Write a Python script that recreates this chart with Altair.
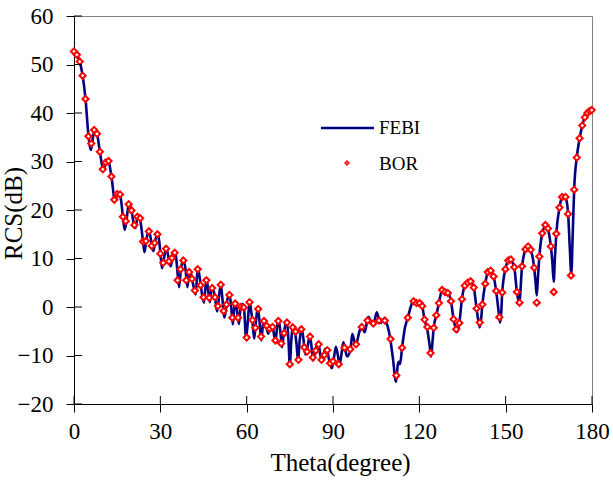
import altair as alt
import pandas as pd

# ---------------- data ----------------
X_TICKS = [0, 30, 60, 90, 120, 150, 180]
Y_TICKS = [-20, -10, 0, 10, 20, 30, 40, 50, 60]
LEGEND_LABELS = ["FEBI", "BOR"]

FEBI_THETA = [
    0, 1, 2, 3, 4, 5, 5.9, 6.5, 7.3, 8, 9, 10.2, 11.0, 11.9, 13, 14.3, 15.1, 15.7, 16.4, 17,
    17.6, 18.2, 18.8, 19.4, 20, 20.7, 21.4, 22.0, 22.6, 23.2, 24, 24.5, 25, 25.9, 26.6, 27.1,
    27.6, 28.2, 29.0, 29.6, 30.2, 30.6, 31.2, 32.1, 32.9, 33.6, 34.3, 35.2, 35.9, 36.5, 37.2,
    38.1, 38.8, 39.4, 40.0, 40.4, 41.0, 41.8, 42.3, 42.8, 43.1, 43.8, 44.6, 45.2, 45.7, 46.1,
    46.6, 47.2, 47.7, 48.1, 49.0, 49.7, 50.1, 51.0, 51.6, 52.2, 52.8, 53.0, 54.0, 54.6, 55.2,
    55.8, 56.2, 56.7, 57.3, 57.9, 58.5, 59.1, 59.8, 60.4, 61.0, 61.6, 62.0, 62.6, 63.0, 63.9,
    64.5, 65.1, 65.6, 66.2, 66.8, 67.5, 68.0, 68.6, 69.2, 70.0, 70.6, 71.1, 71.7, 72.3, 72.8,
    73.5, 74.0, 74.5, 75.0, 75.5, 76.1, 76.7, 77.3, 77.9, 78.4, 79.1, 79.7, 80.4, 80.9, 81.5,
    82.0, 82.6, 83.1, 83.7, 84.4, 85.0, 85.5, 86.1, 86.7, 87.3, 87.9, 88.5, 89.0, 89.6, 90.2,
    91.0, 91.7, 92.3, 93.0, 93.6, 94.1, 94.9, 96.1, 96.7, 97.3, 97.9, 98.5, 99.2, 100.1, 101.0,
    101.9, 102.3, 103.2, 104.1, 105.2, 106.0, 106.6, 107.5, 108.0, 109.0, 109.9, 110.8, 111.9,
    112.5, 112.9, 113.3, 114.0, 115.0, 116.0, 117.0, 117.8, 118.5, 119.0, 119.6, 120.1, 121.0,
    121.8, 122.8, 123.6, 124.1, 124.6, 125.0, 125.9, 126.8, 127.9, 128.5, 128.9, 129.9, 131.0,
    131.9, 132.8, 133.2, 133.9, 134.8, 135.8, 136.8, 137.6, 138.9, 139.9, 140.5, 141.0, 141.5,
    141.9, 142.9, 143.8, 144.4, 145.8, 146.7, 147.8, 148.1, 148.5, 148.8, 149.9, 150.9, 151.4,
    151.8, 153.0, 153.9, 154.7, 155.7, 156.9, 157.7, 158.7, 159.9, 160.4, 160.8, 161.2, 161.7,
    162.7, 163.8, 164.2, 164.7, 165.7, 166.2, 166.7, 167.1, 167.6, 168.7, 169.6, 170.2, 170.8,
    171.7, 172.3, 172.8, 173.3, 173.8, 174.7, 175.7, 176.6, 177.5, 178.4, 179.2, 180.0,
]
FEBI_RCS = [
    52.7, 52.0, 50.6, 47.7, 42.9, 35.6, 32.4, 34.6, 36.8, 35.8, 32.0, 28.2, 29.6, 30.3, 26.9, 21.8, 23.3, 23.6, 21.8, 18.6,
    15.9, 17.6, 20.5, 21.4, 19.9, 17.4, 16.3, 18.4, 18.9, 17.2, 13.5, 11.3, 13.2, 15.7, 14.4, 12.4,
    11.5, 13.6, 15.2, 13.6, 10.0, 8.0, 9.8, 12.1, 10.0, 8.4, 10.4, 11.4, 7.6, 4.1, 8.1,
    9.7, 7.5, 4.1, 7.1, 7.4, 5.8, 3.6, 2.6, 6.8, 7.9, 5.6, 2.2, 0.9, 4.2, 5.6,
    3.6, 1.0, 3.4, 4.0, 2.0, -0.9, 0.6, 4.7, 1.5, -2.2, -0.5, 0.5, 2.6, 0.2, -3.6,
    0.4, 0.9, -1.0, -3.5, 0.0, 0.6, -0.4, -6.4, -3.0, 1.1, -1.0, -2.7, -6.5, -4.3, -0.3,
    -3.2, -6.9, -4.0, -2.6, -3.8, -5.5, -4.5, -3.8, -4.6, -7.1, -4.0, -2.7, -5.0, -8.3, -6.0,
    -3.6, -3.1, -6.5, -12.0, -7.0, -4.0, -4.8, -7.5, -11.2, -7.0, -4.4, -6.5, -9.8, -9.3, -7.0,
    -6.0, -8.5, -11.0, -9.5, -7.8, -7.6, -9.5, -11.3, -10.0, -8.6, -8.6, -10.5, -11.7, -12.6, -11.0,
    -8.2, -10.0, -11.9, -9.5, -7.3, -8.4, -10.2, -8.7, -5.6, -6.8, -8.0, -6.8, -5.0, -4.1, -5.2,
    -2.8, -2.0, -3.0, -3.5, -1.1, -2.6, -3.3, -2.5, -2.7, -4.0, -6.6, -10.5, -15.4,
    -12.0, -11.3, -11.8, -8.4, -4.3, -2.2, 0.0, 1.2, 1.3, 0.8, 0.6, 0.8, 0.1,
    -2.6, -4.8, -8.0, -10.2, -7.0, -4.3, -1.7, 0.8, 3.5, 3.6, 3.1, 2.9, 1.2,
    -2.5, -4.7, -5.1, -3.3, 1.6, 4.4, 5.0, 5.4, 4.0, -0.3, -2.9, -4.2, -2.3,
    0.5, 4.8, 7.2, 7.7, 6.3, 3.3, -2.1, -3.2, -0.8, 3.0, 7.8, 9.6, 10.0,
    9.8, 8.2, 3.1, 0.8, 8.4, 11.9, 12.6, 11.8, 8.1, 5.0, 2.4, 6.0, 10.4,
    15.2, 16.9, 17.2, 16.2, 12.5, 9.5, 5.2, 10.0, 15.1, 20.5, 22.7, 23.0, 22.7,
    19.2, 12.0, 6.8, 15.0, 24.2, 30.8, 34.8, 37.4, 39.1, 40.0, 40.4, 40.6,
]

BOR_THETA = list(range(0, 91)) + list(range(92, 119, 2)) + [
    119.0, 120.1, 121.0, 121.8, 122.8, 123.9, 125.0, 125.9, 126.8, 127.9, 128.9, 129.9, 131.0,
    131.9, 132.8, 133.9, 134.8, 135.8, 136.8, 137.8, 138.9, 139.9, 141.0, 141.9, 142.9, 143.8,
    144.8, 145.8, 146.7, 147.8, 148.8, 149.9, 150.9, 151.8, 153.0, 153.9, 154.8, 155.7, 156.9,
    157.8, 158.7, 159.9, 160.8, 161.7, 162.7, 163.8, 164.7, 165.7, 166.7, 167.6, 168.7, 169.6,
    170.8, 171.7, 172.7, 173.8, 174.7, 175.7, 176.6, 177.5, 178.4, 179.2, 179.9,
]
BOR_RCS = [
    52.7, 52.0, 50.6, 47.7, 42.9, 35.2, 33.7, 36.5, 35.7, 32.0,
    28.4, 29.8, 30.1, 26.9, 22.1, 23.3, 23.2, 18.6, 17.7, 21.2,
    19.9, 16.9, 18.6, 18.3, 13.5, 13.6, 15.6, 12.6, 13.2, 15.0,
    11.0, 9.1, 12.0, 9.4, 10.1, 11.2, 5.5, 7.8, 9.6, 5.5,
    7.2, 5.8, 3.4, 7.8, 4.5, 2.0, 5.5, 1.9, 3.9, 2.0,
    0.2, 4.6, -0.8, 0.5, 2.5, -2.2, 0.7, -2.2, 0.0, -0.1,
    -6.3, 1.0, -2.7, -4.3, -0.4, -6.1, -2.9, -3.9, -4.5, -4.1,
    -6.9, -2.9, -7.5, -5.4, -3.2, -11.8, -4.2, -5.1, -10.9, -4.6,
    -8.3, -9.2, -6.1, -10.4, -9.0, -7.7, -10.9, -9.9, -8.9, -11.6,
    -11.2,
    -11.8, -8.4, -8.7, -7.7, -4.1, -2.8, -3.4, -2.8, -2.8, -6.6, -14.1, -8.4, -2.2, 1.2,
    0.8, 0.8, 0.2, -2.6, -4.1, -9.5, -4.3, -1.7, 0.8, 3.5, 3.1, 2.9, 1.2,
    -2.5, -4.6, -3.3, 1.6, 4.4, 5.0, 5.3, 4.0, -0.3, -3.2, 0.5, 4.8, 7.2,
    7.5, 6.3, 3.3, -2.1, 3.0, 7.8, 9.6, 9.8, 8.2, 3.1, 0.9, 8.4, 11.9,
    12.5, 11.8, 8.1, 0.9, 10.4, 15.2, 16.9, 16.2, 12.5, 3.1, 15.1, 20.5, 22.7,
    22.7, 19.2, 6.5, 24.2, 30.8, 34.8, 37.4, 39.1, 40.0, 40.4, 40.6,
]

W, H = 518, 388
FONT = "Liberation Serif"

febi = pd.DataFrame({"theta": FEBI_THETA, "rcs": FEBI_RCS})
bor = pd.DataFrame({"theta": BOR_THETA, "rcs": BOR_RCS})

xs = alt.Scale(domain=[0, 180], nice=False, zero=False)
ys = alt.Scale(domain=[-20, 60], nice=False, zero=False)

line = alt.Chart(febi).mark_line(color="#000080", strokeWidth=2.6, interpolate="monotone").encode(
    x=alt.X("theta:Q", scale=xs, axis=alt.Axis(values=X_TICKS, title="Theta(degree)",
                                               labelPadding=8, titlePadding=7, labelFlush=False,
                                               titleX=266)),
    y=alt.Y("rcs:Q", scale=ys, axis=alt.Axis(values=Y_TICKS, title="RCS(dB)", labelPadding=13,
                                             labelFlush=False, titleX=-48, titleY=H / 2 + 3,
                                             titleBaseline="bottom")),
)

pts = alt.Chart(bor).mark_point(shape="diamond", filled=True, fill="white", stroke="#ff0000",
                                strokeWidth=2, size=38, opacity=1).encode(
    x=alt.X("theta:Q", scale=xs),
    y=alt.Y("rcs:Q", scale=ys),
)

ytick_in = alt.Chart(pd.DataFrame({"v": Y_TICKS})).mark_rule(color="black", strokeWidth=1).encode(
    y=alt.Y("v:Q", scale=ys), x=alt.value(0), x2=alt.value(8))
xtick_in = alt.Chart(pd.DataFrame({"v": X_TICKS})).mark_rule(color="black", strokeWidth=1).encode(
    x=alt.X("v:Q", scale=xs), y=alt.value(H - 8), y2=alt.value(H))

one = pd.DataFrame({"a": [0]})
leg_line = alt.Chart(one).mark_rule(color="#000080", strokeWidth=2.6).encode(
    x=alt.value(247), x2=alt.value(300), y=alt.value(112))
leg_pt = alt.Chart(one).mark_point(shape="diamond", filled=True, fill="white", stroke="#ff0000",
                                   strokeWidth=1.5, size=14, opacity=1).encode(
    x=alt.value(273), y=alt.value(147))
leg_text = alt.Chart(pd.DataFrame({"label": LEGEND_LABELS, "yy": [118, 154]})).mark_text(
    font=FONT, fontSize=19, align="left", baseline="alphabetic", color="black").encode(
    x=alt.value(305), y=alt.Y("yy:Q", scale=None), text="label:N")

chart = alt.layer(line, pts, ytick_in, xtick_in, leg_line, leg_pt, leg_text).properties(
    width=W, height=H,
    autosize=alt.AutoSizeParams(type="none"),
    padding={"left": 74, "top": 16, "right": 613 - 74 - W, "bottom": 480 - 16 - H},
    background="white",
).configure_axis(
    domainColor="black", domainWidth=1, tickColor="black", tickSize=8, tickWidth=1,
    labelFont=FONT, labelFontSize=23, labelColor="black",
    titleFont=FONT, titleFontSize=25, titleFontWeight="normal", titleColor="black",
    grid=False,
).configure_view(stroke="#808080", strokeWidth=1)

chart.save("out.html", embed_options={"renderer": "svg", "actions": False})
